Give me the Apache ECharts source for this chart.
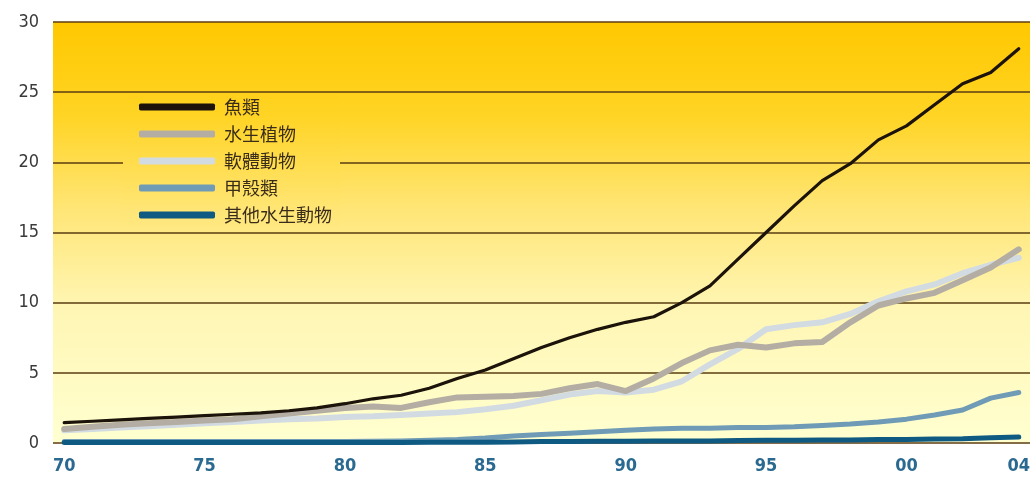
<!DOCTYPE html>
<html><head><meta charset="utf-8">
<script src="https://cdn.jsdelivr.net/npm/echarts@6/dist/echarts.min.js"></script>
<style>html,body{margin:0;padding:0;background:#fff}#c{width:1036px;height:480px}</style>
</head><body><div id="c"></div>
<script>
var years = [1970,1971,1972,1973,1974,1975,1976,1977,1978,1979,1980,1981,1982,1983,1984,1985,1986,1987,1988,1989,1990,1991,1992,1993,1994,1995,1996,1997,1998,1999,2000,2001,2002,2003,2004];
var seriesNames = ['魚類','水生植物','軟體動物','甲殼類','其他水生動物'];
var fish =        [1.45,1.55,1.65,1.75,1.85,1.95,2.05,2.15,2.3,2.5,2.8,3.15,3.4,3.9,4.6,5.2,6.0,6.8,7.5,8.1,8.6,9.0,10.0,11.2,13.1,15.0,16.9,18.7,19.9,21.6,22.6,24.1,25.6,26.4,28.1];
var plants =      [1.0,1.15,1.3,1.4,1.5,1.6,1.7,1.9,2.1,2.3,2.5,2.6,2.5,2.9,3.25,3.3,3.35,3.5,3.9,4.2,3.7,4.6,5.7,6.6,7.0,6.8,7.1,7.2,8.6,9.8,10.3,10.7,11.6,12.5,13.8];
var molluscs =    [0.9,1.0,1.1,1.2,1.3,1.4,1.5,1.6,1.7,1.75,1.85,1.9,2.0,2.1,2.2,2.4,2.65,3.05,3.45,3.7,3.6,3.8,4.4,5.6,6.7,8.1,8.4,8.6,9.2,10.1,10.8,11.3,12.1,12.7,13.2];
var crustaceans = [0.1,0.1,0.1,0.1,0.1,0.1,0.1,0.1,0.1,0.1,0.1,0.12,0.15,0.2,0.25,0.35,0.5,0.6,0.7,0.8,0.9,1.0,1.05,1.05,1.1,1.1,1.15,1.25,1.35,1.5,1.7,2.0,2.35,3.2,3.6];
var others =      [0.03,0.03,0.03,0.03,0.03,0.03,0.03,0.03,0.03,0.03,0.03,0.03,0.04,0.05,0.05,0.06,0.08,0.1,0.1,0.12,0.12,0.14,0.15,0.15,0.17,0.2,0.2,0.22,0.22,0.25,0.25,0.28,0.3,0.38,0.42];
var xTickValues = [1970,1975,1980,1985,1990,1995,2000,2004];
var yTicks = [0,5,10,15,20,25,30];

var colors = ['#1c130a','#b3ada3','#d3dbe2','#6f9bb6','#0f5a82'];
var widths = [3.2,6,6,5,5];
var allData = [fish, plants, molluscs, crustaceans, others];

function pairs(arr){ return years.map(function(y,i){ return [y, arr[i]]; }); }

var chart = echarts.init(document.getElementById('c'));
var gridBg = new echarts.graphic.LinearGradient(0, 0, 0, 1, [
  {offset:0, color:'#ffc800'},
  {offset:0.22, color:'#ffd424'},
  {offset:0.45, color:'#ffe678'},
  {offset:0.68, color:'#fff6b4'},
  {offset:1, color:'#ffffd0'}
]);
var legendBg = new echarts.graphic.LinearGradient(0, 0, 0, 1, [
  {offset:0, color:'#ffd11c'},
  {offset:0.154, color:'#ffd424'},
  {offset:0.896, color:'#ffe678'},
  {offset:1, color:'#ffe880'}
]);
var order = [3,4,2,1,0];
var series = order.map(function(k){
  return {
    name: seriesNames[k], type:'line', data: pairs(allData[k]),
    symbol:'none', smooth:false, z: 3 + order.indexOf(k),
    lineStyle:{color: colors[k], width: widths[k], cap:'round', join:'round'},
    itemStyle:{color: colors[k]}
  };
});
chart.setOption({
  animation:false,
  grid:{left:53, right:6, top:22, bottom:37, show:true, borderWidth:0, backgroundColor: gridBg},
  legend:{
    orient:'vertical', left:123, top:95, data: seriesNames,
    padding:[3,8,3,16], itemGap:9, itemWidth:76, itemHeight:7,
    icon:'roundRect', backgroundColor: legendBg,
    textStyle:{fontSize:18, color:'#3a2c1a', fontFamily:'"Noto Sans CJK TC", sans-serif', padding:[0,0,0,4]}
  },
  xAxis:{
    type:'value', min:1969.6, max:2004.4,
    axisLine:{show:false}, axisTick:{show:false}, splitLine:{show:false},
    axisLabel:{customValues: xTickValues, margin:14, fontSize:18, color:'#2a6990', fontWeight:'bold',
      fontFamily:'"Liberation Sans Narrow", "DejaVu Sans Condensed", sans-serif',
      formatter:function(v){ var s = String(v % 100); return s.length<2 ? '0'+s : s; }}
  },
  yAxis:{
    type:'value', min:yTicks[0], max:yTicks[yTicks.length-1], interval:5,
    axisLine:{show:false}, axisTick:{show:false},
    splitLine:{show:true, lineStyle:{color:'#5a3c12', width:1.5}},
    axisLabel:{margin:14, fontSize:18, color:'#3a3a3a',
      fontFamily:'"Liberation Sans Narrow", "DejaVu Sans Condensed", sans-serif'}
  },
  series: series
});
</script></body></html>
